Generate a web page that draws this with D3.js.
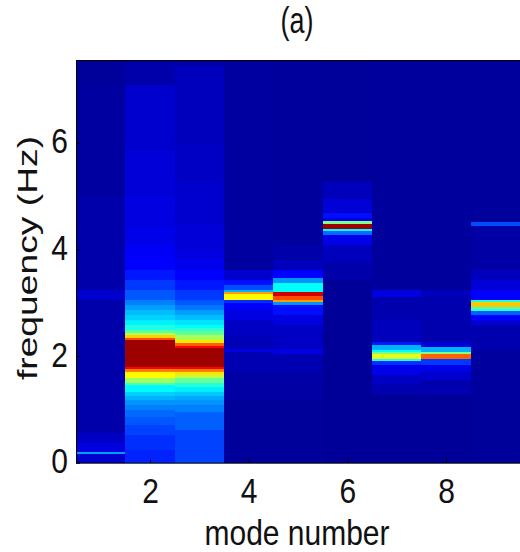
<!DOCTYPE html>
<html>
<head>
<meta charset="utf-8">
<script src="https://cdn.jsdelivr.net/npm/d3@7"></script>
<style>
  body { margin: 0; background: #fff; }
  text { font-family: "Liberation Sans", Arial, sans-serif; fill: #111; }
</style>
</head>
<body>
<div id="chart"></div>
<script>
// Each band is [lower edge in Hz, amplitude 0..1]; a band runs down from the previous edge
const mode1 = [[7.08, .012], [5.0, .02], [3.24, .03], [3.05, .07], [.56, .03], [.36, .06], [.20, .09], [.16, .28], [0, .07]];
const mode2 = [[7.08, .03], [5.86, .07], [5.0, .08], [4.4, .09], [4.08, .1], [3.85, .115], [3.61, .13], [3.43, .15],
    [3.24, .18], [3.05, .21], [2.96, .25], [2.86, .28], [2.77, .31], [2.68, .33], [2.58, .36], [2.49, .4], [2.43, .46],
    [2.39, .55], [2.34, .67], [2.30, .8], [1.79, .97], [1.76, .875], [1.70, .75], [1.59, .63], [1.49, .53], [1.46, .45],
    [1.33, .37], [1.25, .33], [1.18, .3], [1.08, .27], [.99, .25], [.85, .23], [.71, .21], [.52, .19], [.24, .17], [0, .16]];
const mode3 = [[7.44, .025], [6.0, .05], [5.26, .06], [4.5, .07], [3.99, .08], [3.8, .09], [3.61, .105], [3.43, .125],
    [3.24, .15], [3.05, .18], [2.96, .21], [2.86, .24], [2.77, .28], [2.68, .31], [2.58, .35], [2.53, .38], [2.46, .42],
    [2.39, .47], [2.30, .54], [2.24, .65], [2.19, .78], [2.15, .87], [1.79, .97], [1.76, .875], [1.70, .75], [1.64, .65],
    [1.59, .56], [1.49, .48], [1.41, .41], [1.33, .36], [1.25, .32], [1.18, .29], [1.08, .27], [.95, .25], [.61, .22], [0, .19]];
const mode4 = [[3.61, .02], [3.43, .07], [3.33, .14], [3.24, .2], [3.20, .3], [3.16, .72], [3.05, .63], [2.99, .17],
    [2.86, .12], [2.68, .09], [2.4, .06], [2.13, .045], [2.08, .09], [1.7, .04], [1.18, .025], [0, .012]];
const mode5 = [[4.08, .015], [3.8, .03], [3.61, .05], [3.46, .13], [3.37, .27], [3.20, .38], [3.13, .92], [3.05, .8], [3.01, .72],
    [2.96, .27], [2.77, .14], [2.58, .09], [2.13, .06], [2.04, .09], [1.7, .04], [1.18, .025], [0, .012]];
const mode6 = [[5.26, .012], [4.95, .05], [4.68, .08], [4.59, .14], [4.53, .1], [4.47, .5], [4.38, .97], [4.34, .38], [4.27, .23],
    [4.08, .1], [3.75, .05], [3.43, .03], [0, .01]];
const mode7 = [[3.24, .015], [3.11, .09], [2.7, .035], [2.26, .05], [2.21, .15], [2.11, .3], [2.08, .38], [2.04, .5], [1.94, .6],
    [1.91, .4], [1.83, .17], [1.64, .1], [1.45, .06], [1.27, .035], [0, .01]];
const mode8 = [[3.24, .015], [3.11, .05], [2.26, .035], [2.17, .08], [2.08, .3], [2.04, .5], [1.94, .78], [1.83, .18],
    [1.70, .1], [1.55, .07], [1.27, .035], [0, .01]];
const mode9 = [[4.51, .015], [4.44, .2], [3.61, .025], [3.43, .05], [3.24, .08], [3.05, .12], [3.01, .4], [2.91, .68], [2.88, .45],
    [2.84, .42], [2.77, .22], [2.68, .13], [2.58, .08], [2.11, .035], [1.2, .018], [0, .012]];

const modes = [mode1, mode2, mode3, mode4, mode5, mode6, mode7, mode8, mode9];
const modeTicks = [2, 4, 6, 8];
const freqTicks = [0, 2, 4, 6];
const freqMax = 7.55;

// MATLAB jet colormap stops
const jetStops = [0, .125, .375, .625, .875, 1];
const jetColors = ['#00008f', '#0000ff', '#00ffff', '#ffff00', '#ff0000', '#800000'];

function createHeatmap() {
    const width = 520;
    const height = 552;
    const margin = { top: 60, right: 0, bottom: 89.3, left: 76 };

    const svg = d3.select('#chart')
        .append('svg')
        .attr('width', width)
        .attr('height', height)
        .style('display', 'block');

    const xScale = d3.scaleLinear()
        .domain([0.5, 9.5])
        .range([margin.left, width - margin.right]);

    const yScale = d3.scaleLinear()
        .domain([0, freqMax])
        .range([height - margin.bottom, margin.top]);

    const color = d3.scaleLinear()
        .domain(jetStops)
        .range(jetColors)
        .clamp(true);

    // Slight blur stands in for the soft look of the source image
    svg.append('filter')
        .attr('id', 'soft')
        .attr('x', 0).attr('y', 0).attr('width', 1).attr('height', 1)
        .append('feGaussianBlur')
        .attr('stdDeviation', 0.5);

    // One rect per band, bands run from the top of the axis downward
    const cells = modes.flatMap((bands, i) => bands.map(([lower, value], j) => ({
        mode: i + 1,
        upper: j === 0 ? freqMax : bands[j - 1][0],
        lower,
        value,
    })));

    svg.append('g')
        .attr('filter', 'url(#soft)')
        .attr('shape-rendering', 'crispEdges')
        .selectAll('rect')
        .data(cells)
        .join('rect')
        .attr('x', d => xScale(d.mode - 0.5))
        .attr('width', d => xScale(d.mode + 0.5) - xScale(d.mode - 0.5))
        .attr('y', d => yScale(d.upper))
        .attr('height', d => yScale(d.lower) - yScale(d.upper))
        .attr('fill', d => color(d.value));

    // Axes
    const xAxis = d3.axisBottom(xScale).tickValues(modeTicks).tickSizeInner(-4).tickSizeOuter(0).tickPadding(0);
    const yAxis = d3.axisLeft(yScale).tickValues(freqTicks).tickSizeInner(-4).tickSizeOuter(0).tickPadding(8);
    const topAxis = d3.axisTop(xScale).tickValues([]).tickSizeOuter(0);

    const xG = svg.append('g')
        .attr('transform', `translate(0,${height - margin.bottom})`)
        .call(xAxis);
    const yG = svg.append('g')
        .attr('transform', `translate(${margin.left},0)`)
        .call(yAxis);
    svg.append('g')
        .attr('transform', `translate(0,${margin.top})`)
        .call(topAxis);

    // Source image is stretched vertically, so the text is too
    const stretch = 1.17;
    xG.selectAll('text')
        .attr('font-size', 30)
        .attr('dy', 0)
        .attr('y', 0)
        .attr('transform', `translate(0,40) scale(1,${stretch})`);
    yG.selectAll('text')
        .attr('font-size', 30)
        .attr('dy', 0)
        .attr('transform', `translate(0,10) scale(1,${stretch})`);

    svg.append('text')
        .attr('text-anchor', 'middle')
        .attr('font-size', 30)
        .attr('transform', `translate(297,545) scale(1,${stretch})`)
        .text('mode number');

    svg.append('text')
        .attr('text-anchor', 'middle')
        .attr('font-size', 28)
        .attr('transform', 'translate(37,258) rotate(-90) scale(1.33,1)')
        .text('frequency (Hz)');

    svg.append('text')
        .attr('text-anchor', 'middle')
        .attr('font-size', 27)
        .attr('transform', 'translate(297,33) scale(1,1.35)')
        .text('(a)');
}

createHeatmap();
</script>
</body>
</html>
